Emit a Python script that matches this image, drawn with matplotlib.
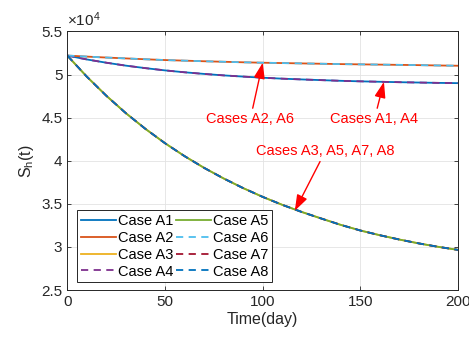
import numpy as np
import matplotlib
matplotlib.use("Agg")
import matplotlib.pyplot as plt
from matplotlib.ticker import FuncFormatter

plt.rcParams['font.family'] = ['Liberation Sans', 'DejaVu Sans']
plt.rcParams['mathtext.fontset'] = 'custom'
plt.rcParams['mathtext.rm'] = 'Liberation Sans'
plt.rcParams['mathtext.it'] = 'Liberation Sans:italic'

# susceptible humans S_h(t), in units of 1e4, sampled every 10 days
t = [0, 10, 20, 30, 40, 50, 60, 70, 80, 90, 100,
     110, 120, 130, 140, 150, 160, 170, 180, 190, 200]

s_slow = [5.220, 5.208, 5.197, 5.187, 5.177, 5.168, 5.161, 5.154, 5.148, 5.142, 5.137,
          5.133, 5.129, 5.125, 5.121, 5.118, 5.115, 5.112, 5.109, 5.105, 5.102]
s_mid = [5.220, 5.175, 5.137, 5.103, 5.074, 5.048, 5.026, 5.007, 4.990, 4.976, 4.963,
         4.952, 4.943, 4.935, 4.927, 4.921, 4.916, 4.911, 4.907, 4.903, 4.900]
s_fast = [5.220, 4.975, 4.753, 4.551, 4.369, 4.203, 4.053, 3.917, 3.794, 3.682, 3.580,
          3.488, 3.405, 3.329, 3.255, 3.190, 3.135, 3.085, 3.040, 3.000, 2.965]

cases = ['Case A1', 'Case A2', 'Case A3', 'Case A4',
         'Case A5', 'Case A6', 'Case A7', 'Case A8']
case_data = [s_mid, s_slow, s_fast, s_mid, s_fast, s_slow, s_fast, s_fast]
colors = ['#0072BD', '#D95319', '#EDB120', '#7E2F8E',
          '#77AC30', '#4DBEEE', '#A2142F', '#0072BD']
styles = ['-', '-', '-', '--', '-', '--', '--', '--']

fig = plt.figure(figsize=(4.69, 3.38), dpi=100)
ax = fig.add_axes([0.1435, 0.142, 0.8335, 0.765])

for name, y, c, ls in zip(cases, case_data, colors, styles):
    ax.plot(t, y, color=c, linestyle=ls, linewidth=1.3, label=name,
            dashes=(4, 3) if ls == '--' else (None, None))

ax.set_xlim(0, 200)
ax.set_ylim(2.5, 5.5)
ax.set_xticks([0, 50, 100, 150, 200])
ax.set_yticks(np.arange(2.5, 5.51, 0.5))
ax.yaxis.set_major_formatter(FuncFormatter(lambda v, p: '%g' % v))
ax.tick_params(direction='in', length=3, width=0.6, labelsize=11,
               colors='#262626', top=True, right=True)
ax.grid(True, color='#e3e3e3', linewidth=0.6)
ax.set_axisbelow(True)
for sp in ax.spines.values():
    sp.set_color('#262626')
    sp.set_linewidth(0.7)

ax.text(0.0, 1.01, r'$\times10^{4}$', transform=ax.transAxes, fontsize=11,
        color='#262626', ha='left', va='bottom')
ax.set_xlabel('Time(day)', fontsize=11.5, color='#262626', labelpad=2)
ax.set_ylabel(r'S$_\mathrm{h}$(t)', fontsize=11.5, color='#262626', labelpad=4)

leg = ax.legend(ncol=2, loc='lower left', bbox_to_anchor=(0.025, 0.03),
                fontsize=10.5, handlelength=2.4, handletextpad=0.15,
                columnspacing=0.2, labelspacing=0.2, borderpad=0.25,
                borderaxespad=0, fancybox=False, framealpha=1,
                edgecolor='#262626')
leg.get_frame().set_linewidth(0.7)

arrow = dict(arrowstyle='-|>,head_length=0.8,head_width=0.28', color='red',
             lw=1.0, mutation_scale=12, shrinkA=1, shrinkB=0)
ax.annotate('Cases A2, A6', xy=(100, 5.137), xytext=(93.6, 4.48),
            color='red', fontsize=10.5, ha='center', va='center', arrowprops=arrow)
ax.annotate('Cases A1, A4', xy=(162, 4.915), xytext=(157.1, 4.48),
            color='red', fontsize=10.5, ha='center', va='center', arrowprops=arrow)
ax.annotate('Cases A3, A5, A7, A8', xy=(116.4, 3.42), xytext=(132.2, 4.118),
            color='red', fontsize=10.5, ha='center', va='center', arrowprops=arrow)

fig.savefig('out.png', dpi=100)
